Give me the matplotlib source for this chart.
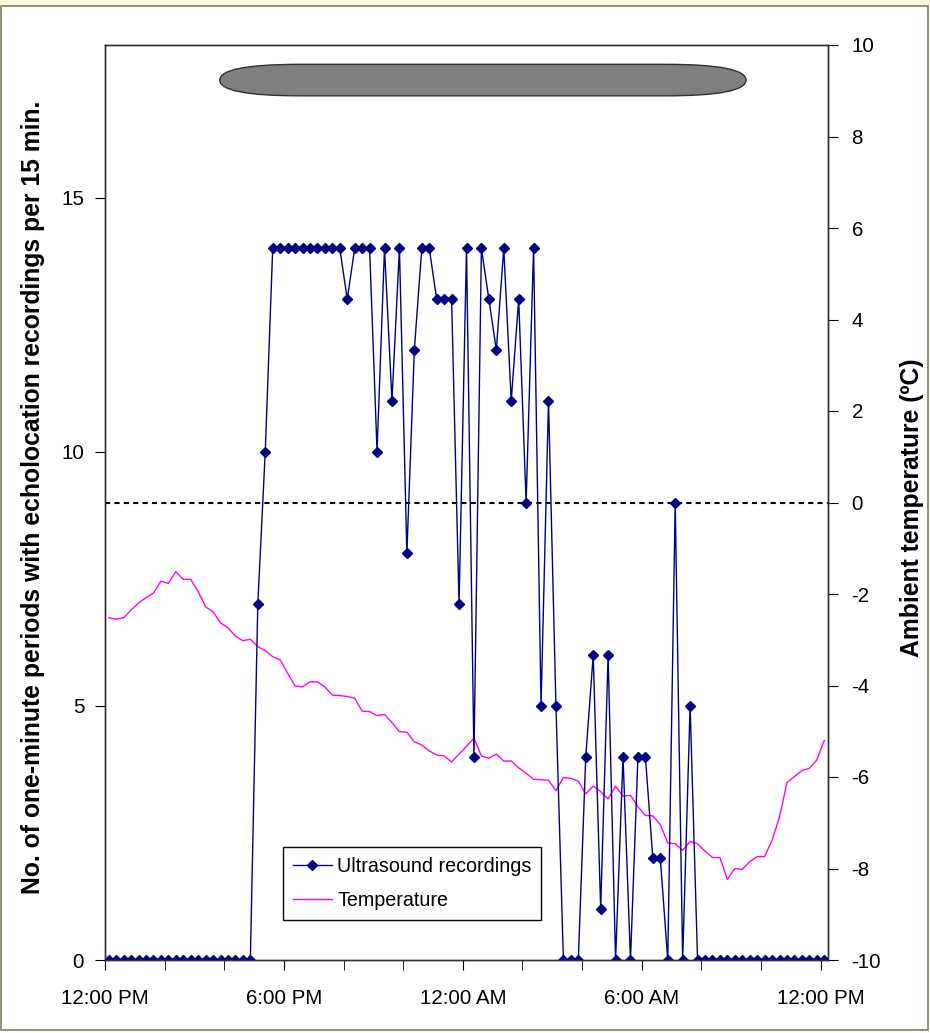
import numpy as np
import matplotlib
matplotlib.use('Agg')
import matplotlib.pyplot as plt
from matplotlib.patches import FancyBboxPatch, Rectangle

plt.rcParams['font.family'] = ['Liberation Sans', 'DejaVu Sans']
plt.rcParams['axes.unicode_minus'] = False

# 15-min bins from 12:00 PM to 12:00 PM next day (hours after noon, bin centres)
bin_width = 0.25
n_bins = 97
hours = (np.arange(n_bins) + 0.5) * bin_width

recordings = [
    0, 0, 0, 0, 0, 0, 0, 0, 0, 0, 0, 0, 0, 0, 0, 0, 0, 0, 0, 0,
    7, 10,
    14, 14, 14, 14, 14, 14, 14, 14, 14, 14,
    13, 14, 14, 14, 10, 14, 11, 14, 8, 12, 14, 14, 13, 13, 13, 7, 14, 4,
    14, 13, 12, 14, 11, 13, 9, 14, 5, 11, 5,
    0, 0, 0, 4, 6, 1, 6, 0, 4, 0, 4, 4, 2, 2, 0, 9, 0, 5,
    0, 0, 0, 0, 0, 0, 0, 0, 0, 0, 0, 0, 0, 0, 0, 0, 0, 0,
]

temperature = [
    -2.52, -2.55, -2.52, -2.35, -2.20, -2.08, -1.98, -1.72, -1.77, -1.51,
    -1.68, -1.68, -1.95, -2.28, -2.39, -2.63, -2.74, -2.92, -3.02, -2.99,
    -3.15, -3.24, -3.37, -3.44, -3.73, -4.01, -4.03, -3.92, -3.92, -4.03,
    -4.21, -4.22, -4.24, -4.28, -4.56, -4.57, -4.66, -4.63, -4.81, -5.01,
    -5.02, -5.23, -5.30, -5.43, -5.52, -5.54, -5.67, -5.50, -5.33, -5.15,
    -5.54, -5.59, -5.50, -5.65, -5.65, -5.80, -5.92, -6.05, -6.06, -6.07,
    -6.30, -6.01, -6.03, -6.09, -6.37, -6.20, -6.32, -6.48, -6.20, -6.42,
    -6.40, -6.65, -6.84, -6.85, -7.04, -7.44, -7.46, -7.60, -7.41, -7.46,
    -7.62, -7.76, -7.76, -8.24, -8.00, -8.02, -7.85, -7.74, -7.74, -7.38,
    -6.87, -6.12, -5.99, -5.86, -5.81, -5.63, -5.20,
]

x_tick_hours = [0, 6, 12, 18, 24]
x_tick_labels = ['12:00 PM', '6:00 PM', '12:00 AM', '6:00 AM', '12:00 PM']
minor_tick_hours = list(range(0, 25, 2))
left_ticks = [0, 5, 10, 15]
right_ticks = list(range(-10, 11, 2))

# dark period bar at the top (hours after noon)
night_start = 3.85
night_end = 21.5

fs = 14.8
label_fs = 17.8

fig = plt.figure(figsize=(9.3, 10.33), dpi=100)
fig.patch.set_facecolor('white')

# outer frame and pale strip at top
fig.add_artist(Rectangle((0, 1 - 6 / 1033), 1, 6 / 1033, transform=fig.transFigure,
                         facecolor='#fbf8dc', edgecolor='none'))
fig.add_artist(Rectangle((1 / 930, 3 / 1033), 927 / 930, 1024 / 1033,
                         transform=fig.transFigure, facecolor='none',
                         edgecolor='#7f7f5a', lw=1.2))

ax = fig.add_axes([105 / 930, 73 / 1033, 723 / 930, 915 / 1033])
ax2 = ax.twinx()

ax2.plot(hours, temperature, color='#ff00ff', lw=1.0, label='Temperature')
ax2.axhline(0, color='black', lw=1.5, ls=(0, (2.5, 2)))
ax.plot(hours, recordings, color='#000080', lw=1.0, marker='D', ms=5.5,
        label='Ultrasound recordings')

ax.set_zorder(ax2.get_zorder() + 1)
ax.patch.set_visible(False)

ax.set_xlim(0, n_bins * bin_width)
ax.set_ylim(0, 18)
ax2.set_ylim(-10, 10)

ax.set_xticks(x_tick_hours)
ax.set_xticklabels(x_tick_labels, fontsize=fs)
ax.set_xticks(minor_tick_hours, minor=True)
ax.set_yticks(left_ticks)
ax.tick_params(axis='y', labelsize=fs, direction='out', length=7, pad=8)
ax.tick_params(axis='x', which='both', direction='out', length=7, pad=14)
ax.tick_params(axis='x', labelsize=fs)
ax2.set_yticks(right_ticks)
ax2.tick_params(axis='y', labelsize=fs, direction='out', length=7, pad=10)

for a in (ax, ax2):
    for s in a.spines.values():
        s.set_color('#303030')
        s.set_linewidth(1.0)

ax.set_ylabel('No. of one-minute periods with echolocation recordings per 15 min.',
              fontsize=label_fs, fontweight='bold')
ax.yaxis.set_label_coords(-0.083, 0.506)
ax2.set_ylabel('Ambient temperature (ºC)', fontsize=label_fs, fontweight='bold')
ax2.yaxis.set_label_coords(1.099, 0.494)

# rounded night bar
bar_y, bar_h = 17.0, 0.62
rx = 2.7
bar = FancyBboxPatch((night_start, bar_y), night_end - night_start, bar_h,
                     boxstyle='round,pad=0,rounding_size=%f' % rx,
                     mutation_aspect=(bar_h / 2) / rx,
                     facecolor='#808080', edgecolor='#303030', lw=1.0,
                     transform=ax.transData, clip_on=False)
ax.add_patch(bar)

h1, l1 = ax.get_legend_handles_labels()
h2, l2 = ax2.get_legend_handles_labels()
leg = ax.legend(h1 + h2, l1 + l2, loc='lower left', bbox_to_anchor=(0.246, 0.044),
                fontsize=fs - 0.6, frameon=True, fancybox=False, framealpha=1,
                edgecolor='black', borderpad=0.5, handlelength=2.0,
                handletextpad=0.25, labelspacing=0.75, borderaxespad=0)
leg.get_frame().set_linewidth(1.0)

fig.savefig('out.png', dpi=100)
